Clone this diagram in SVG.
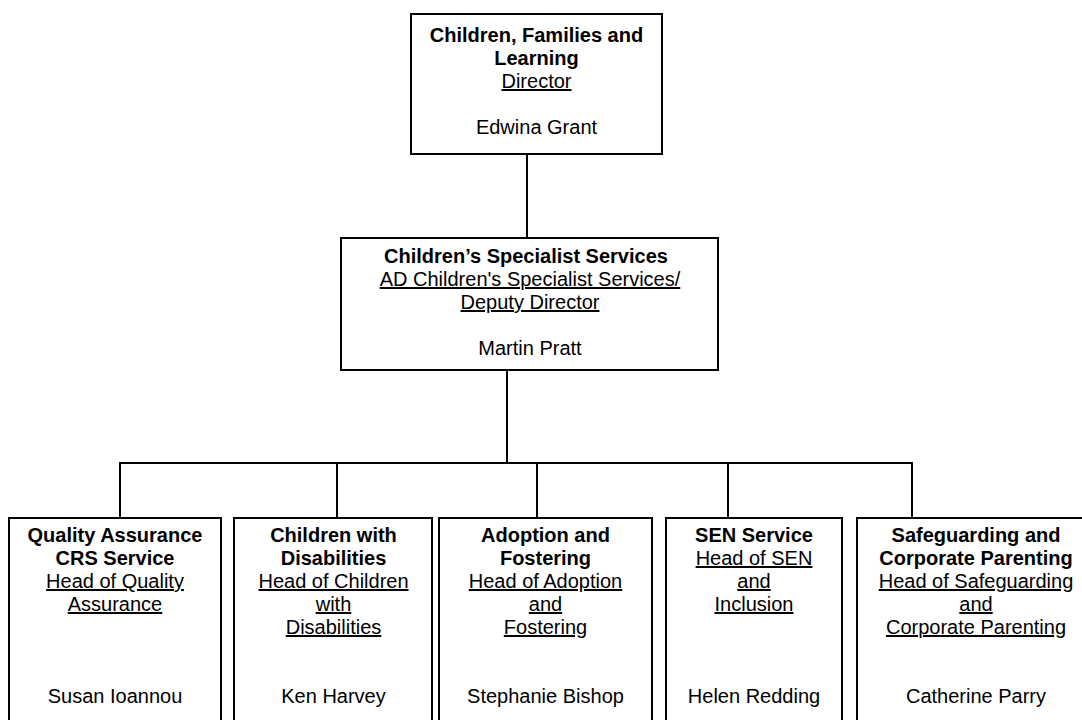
<svg xmlns="http://www.w3.org/2000/svg" width="1082" height="720" viewBox="0 0 1082 720">
<style>
.box{fill:#fff;stroke:#000;stroke-width:2}
.ln{fill:none;stroke:#000;stroke-width:2}
text{font-family:"Liberation Sans",Arial,sans-serif;font-size:20px;fill:#000;text-anchor:middle}
.b{font-weight:bold}
.u{text-decoration:underline}
</style>
<rect width="1082" height="720" fill="#fff"/>
<g id="connectors">
<path class="ln" d="M527,154 V238"/>
<path class="ln" d="M507,370 V463"/>
<path class="ln" d="M120,518 V463 H912 V518"/>
<path class="ln" d="M337,463 V518"/>
<path class="ln" d="M537,463 V518"/>
<path class="ln" d="M728,463 V518"/>
</g>
<g id="director">
<rect class="box" x="411" y="14" width="251" height="140"/>
<text x="536.5" y="42" class="b">Children, Families and</text>
<text x="536.5" y="65" class="b">Learning</text>
<text x="536.5" y="88" class="u">Director</text>
<text x="536.5" y="134">Edwina Grant</text>
</g>
<g id="specialist">
<rect class="box" x="341" y="238" width="377" height="132"/>
<text x="526" y="263" class="b">Children’s Specialist Services</text>
<text x="530" y="286" class="u">AD Children's Specialist Services/</text>
<text x="530" y="309" class="u">Deputy Director</text>
<text x="530" y="355">Martin Pratt</text>
</g>
<g id="quality">
<rect class="box" x="9" y="518" width="212" height="215"/>
<text x="115" y="542" class="b">Quality Assurance</text>
<text x="115" y="565" class="b">CRS Service</text>
<text x="115" y="588" class="u">Head of Quality</text>
<text x="115" y="611" class="u">Assurance</text>
<text x="115" y="703">Susan Ioannou</text>
</g>
<g id="disabilities">
<rect class="box" x="234" y="518" width="198" height="215"/>
<text x="333.5" y="542" class="b">Children with</text>
<text x="333.5" y="565" class="b">Disabilities</text>
<text x="333.5" y="588" class="u">Head of Children</text>
<text x="333.5" y="611" class="u">with</text>
<text x="333.5" y="634" class="u">Disabilities</text>
<text x="333.5" y="703">Ken Harvey</text>
</g>
<g id="adoption">
<rect class="box" x="439" y="518" width="213" height="215"/>
<text x="545.5" y="542" class="b">Adoption and</text>
<text x="545.5" y="565" class="b">Fostering</text>
<text x="545.5" y="588" class="u">Head of Adoption</text>
<text x="545.5" y="611" class="u">and</text>
<text x="545.5" y="634" class="u">Fostering</text>
<text x="545.5" y="703">Stephanie Bishop</text>
</g>
<g id="sen">
<rect class="box" x="666" y="518" width="176" height="215"/>
<text x="754" y="542" class="b">SEN Service</text>
<text x="754" y="565" class="u">Head of SEN</text>
<text x="754" y="588" class="u">and</text>
<text x="754" y="611" class="u">Inclusion</text>
<text x="754" y="703">Helen Redding</text>
</g>
<g id="safeguarding">
<rect class="box" x="857" y="518" width="238" height="215"/>
<text x="976" y="542" class="b">Safeguarding and</text>
<text x="976" y="565" class="b">Corporate Parenting</text>
<text x="976" y="588" class="u">Head of Safeguarding</text>
<text x="976" y="611" class="u">and</text>
<text x="976" y="634" class="u">Corporate Parenting</text>
<text x="976" y="703">Catherine Parry</text>
</g>
</svg>
